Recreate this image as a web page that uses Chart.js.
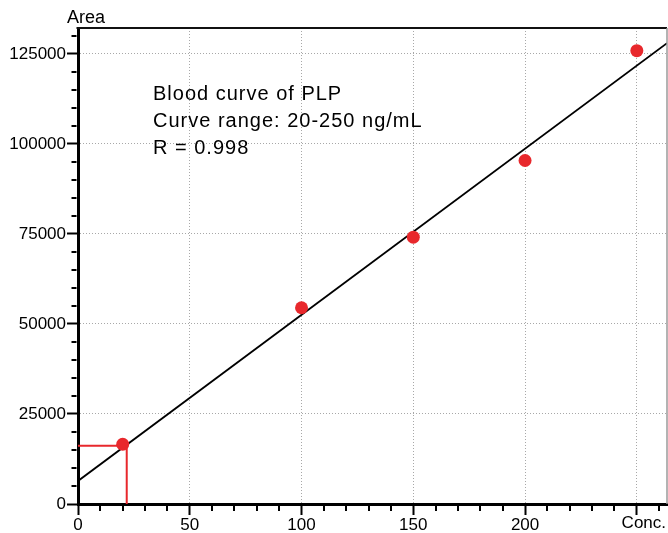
<!DOCTYPE html>
<html><head><meta charset="utf-8">
<script src="https://cdn.jsdelivr.net/npm/chart.js@4"></script>
<style>html,body{margin:0;padding:0;background:#fff}#wrap{width:668px;height:533px}</style>
</head><body><div id="wrap"><canvas id="c" width="668" height="533"></canvas></div>
<script>
// ---- data ----
const concentrations = [20, 100, 150, 200, 250];
const areas = [16600, 54500, 74100, 95400, 125900];
const fitX = [0, 263.5];
const fitY = [6400, 128000];
const markerX = [0, 21.8, 21.8];
const markerY = [16200, 16200, 0];
const xTickValues = [0, 50, 100, 150, 200, 250];
const xTickLabels = ['0', '50', '100', '150', '200', 'Conc.'];
const yTickValues = [0, 25000, 50000, 75000, 100000, 125000];
const yTickLabels = ['0', '25000', '50000', '75000', '100000', '125000'];
const yAxisTitle = 'Area';
const annotationLines = ['Blood curve of PLP', 'Curve range: 20-250 ng/mL', 'R = 0.998'];
const xRange = [0, 263.5];
const yRange = [0, 132200];
const xMinorStep = 10;
const yMinorStep = 5000;

const FONT = "'Liberation Sans', Arial, Helvetica, sans-serif";
const RED = '#e8282c';
const GRID = '#a8a8a8';

const toPts = (xs, ys) => xs.map((x, i) => ({x: x, y: ys[i]}));

const decor = {
  id: 'decor',
  afterDraw(chart) {
    const {ctx, chartArea: a, scales: {x, y}} = chart;
    ctx.save();
    // top & right frame
    ctx.strokeStyle = '#111';
    ctx.lineWidth = 2;
    ctx.beginPath(); ctx.moveTo(a.left - 1.5, a.top); ctx.lineTo(a.right, a.top); ctx.stroke();
    ctx.strokeStyle = '#9a9a9a';
    ctx.lineWidth = 1.5;
    ctx.beginPath(); ctx.moveTo(a.right, a.top); ctx.lineTo(a.right, a.bottom); ctx.stroke();
    // minor ticks
    ctx.strokeStyle = '#000';
    ctx.lineWidth = 2;
    ctx.beginPath();
    for (let v = yMinorStep; v < yRange[1]; v += yMinorStep) {
      if (yTickValues.includes(v)) continue;
      const py = Math.round(y.getPixelForValue(v));
      ctx.moveTo(a.left - 6.5, py); ctx.lineTo(a.left - 1.5, py);
    }
    for (let v = xMinorStep; v < xRange[1]; v += xMinorStep) {
      if (xTickValues.includes(v)) continue;
      const px = Math.round(x.getPixelForValue(v));
      ctx.moveTo(px, a.bottom + 1.5); ctx.lineTo(px, a.bottom + 7);
    }
    ctx.stroke();
    // axis titles
    ctx.fillStyle = '#000';
    ctx.font = '18px ' + FONT;
    ctx.textAlign = 'left';
    ctx.textBaseline = 'alphabetic';
    ctx.fillText(yAxisTitle, a.left - 11, a.top - 5);
    ctx.font = '17px ' + FONT;
    ctx.textAlign = 'center';
    ctx.fillText(xTickLabels[xTickLabels.length - 1], x.getPixelForValue(xTickValues[xTickValues.length - 1]) + 7, a.bottom + 24);
    // annotation
    ctx.font = '20px ' + FONT;
    ctx.textAlign = 'left';
    try { ctx.letterSpacing = '1px'; } catch (e) {}
    annotationLines.forEach((t, i) => ctx.fillText(t, a.left + 75, a.top + 72 + i * 27));
    ctx.restore();
  }
};

new Chart(document.getElementById('c'), {
  type: 'scatter',
  data: {
    datasets: [
      {
        label: 'Samples',
        data: toPts(concentrations, areas),
        backgroundColor: RED,
        borderColor: RED,
        borderWidth: 0,
        pointRadius: 6.5,
        pointHoverRadius: 6.5,
        showLine: false
      },
      {
        label: 'Marker',
        data: toPts(markerX, markerY),
        showLine: true,
        borderColor: RED,
        borderWidth: 2,
        pointRadius: 0,
        fill: false
      },
      {
        label: 'Fit',
        data: toPts(fitX, fitY),
        showLine: true,
        borderColor: '#000',
        borderWidth: 1.8,
        pointRadius: 0,
        fill: false
      }
    ]
  },
  options: {
    responsive: false,
    animation: false,
    devicePixelRatio: 1,
    layout: {autoPadding: false, padding: {top: 28, right: 1, left: 0, bottom: 0}},
    plugins: {legend: {display: false}, tooltip: {enabled: false}, title: {display: false}},
    scales: {
      x: {
        type: 'linear',
        min: xRange[0], max: xRange[1],
        afterFit(s) { s.height = 29; s.paddingLeft = 0; s.paddingRight = 0; },
        afterBuildTicks(s) { s.ticks = xTickValues.map(v => ({value: v})); },
        ticks: {
          autoSkip: false,
          maxRotation: 0,
          padding: 0,
          color: '#000',
          font: {family: FONT, size: 17},
          callback: (v) => { const i = xTickValues.indexOf(v); return i === xTickValues.length - 1 ? '' : xTickLabels[i]; }
        },
        grid: {
          color: (c) => (c.tick && c.tick.value === 0) ? 'rgba(0,0,0,0)' : GRID,
          lineWidth: 1,
          tickColor: '#000',
          tickWidth: 2,
          tickLength: 11,
          tickBorderDash: []
        },
        border: {display: true, color: '#000', width: 3, dash: [1, 2]}
      },
      y: {
        type: 'linear',
        min: yRange[0], max: yRange[1],
        afterFit(s) { s.width = 78; s.paddingTop = 0; s.paddingBottom = 0; },
        afterBuildTicks(s) { s.ticks = yTickValues.map(v => ({value: v})); },
        ticks: {
          autoSkip: false,
          padding: 1,
          color: '#000',
          font: {family: FONT, size: 17},
          callback: (v) => yTickLabels[yTickValues.indexOf(v)]
        },
        grid: {
          color: (c) => (c.tick && c.tick.value === 0) ? 'rgba(0,0,0,0)' : GRID,
          lineWidth: 1,
          tickColor: '#000',
          tickWidth: 2,
          tickLength: 11,
          tickBorderDash: []
        },
        border: {display: true, color: '#000', width: 3, dash: [1, 2]}
      }
    }
  },
  plugins: [decor]
});
</script>
</body></html>
